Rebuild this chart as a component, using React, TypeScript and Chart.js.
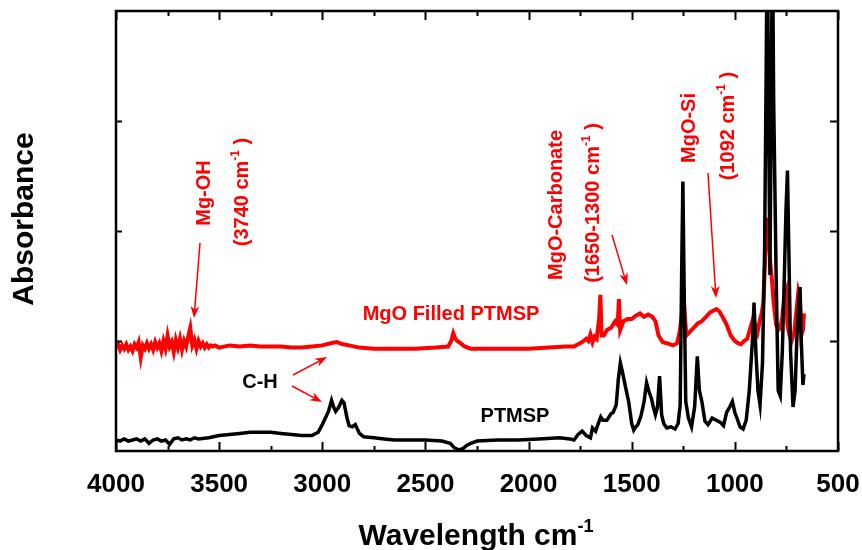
import React, { useEffect, useRef } from "react";
import { Chart, registerables } from "chart.js";

Chart.register(...registerables);

// ---- Data ----
const xTickLabels = [4000, 3500, 3000, 2500, 2000, 1500, 1000, 500];

const ptmspWave = [
  4000, 3980, 3960, 3940, 3920, 3900, 3880, 3860, 3840, 3820, 3800, 3780, 3760, 3740, 3720, 3700, 3680, 3660, 3640, 3620,
  3600, 3550, 3500, 3450, 3400, 3350, 3300, 3250, 3200, 3150, 3100, 3050, 3020, 3000, 2985, 2970, 2955, 2945, 2935, 2920,
  2905, 2895, 2880, 2870, 2855, 2840, 2820, 2800, 2750, 2700, 2650, 2600, 2500, 2420, 2380, 2360, 2340, 2320, 2300, 2280,
  2250, 2150, 2050, 1950, 1850, 1800, 1780, 1760, 1740, 1720, 1700, 1690, 1675, 1660, 1650, 1640, 1620, 1600, 1590, 1575,
  1565, 1555, 1545, 1530, 1515, 1500, 1490, 1480, 1470, 1455, 1440, 1428, 1418, 1405, 1395, 1385, 1375, 1365, 1355, 1345,
  1330, 1310, 1290, 1275, 1265, 1258, 1252, 1246, 1238, 1225, 1210, 1195, 1182, 1172, 1160, 1145, 1130, 1110, 1090, 1070,
  1055, 1040, 1025, 1012, 1000, 990, 975, 960, 945, 930, 915, 907, 898, 888, 878, 866, 856, 848, 843, 836,
  830, 824, 818, 812, 800, 790, 780, 770, 760, 752, 745, 738, 730, 718, 708, 700, 690, 684, 678, 670, 665,
];
const ptmspAbs = [
  0.10, 0.09, 0.11, 0.09, 0.10, 0.11, 0.09, 0.11, 0.07, 0.10, 0.11, 0.09, 0.10, 0.06, 0.11, 0.12, 0.10, 0.11, 0.10, 0.12,
  0.11, 0.12, 0.14, 0.15, 0.16, 0.17, 0.17, 0.17, 0.16, 0.15, 0.14, 0.14, 0.17, 0.24, 0.30, 0.36, 0.46, 0.40, 0.36, 0.40,
  0.46, 0.44, 0.30, 0.23, 0.22, 0.24, 0.16, 0.13, 0.12, 0.11, 0.10, 0.10, 0.10, 0.09, 0.07, 0.03, 0.01, 0.02, 0.05, 0.07,
  0.09, 0.10, 0.10, 0.11, 0.12, 0.11, 0.10, 0.15, 0.18, 0.14, 0.12, 0.21, 0.18, 0.26, 0.31, 0.28, 0.28, 0.34, 0.35, 0.42,
  0.65, 0.80, 0.72, 0.58, 0.45, 0.25, 0.19, 0.22, 0.24, 0.32, 0.45, 0.62, 0.55, 0.48, 0.40, 0.33, 0.40, 0.68, 0.33, 0.25,
  0.21, 0.22, 0.20, 0.25, 0.42, 1.60, 2.45, 1.50, 0.45, 0.30, 0.22, 0.40, 0.86, 0.55, 0.45, 0.27, 0.24, 0.30, 0.28, 0.26,
  0.23, 0.35, 0.40, 0.45, 0.35, 0.30, 0.22, 0.20, 0.28, 0.55, 1.00, 1.35, 0.90, 0.55, 0.42, 0.80, 1.80, 3.50, 4.80, 3.00,
  1.60, 3.00, 4.80, 3.20, 1.60, 0.55, 0.50, 0.90, 1.60, 2.20, 2.55, 1.80, 0.90, 0.40, 0.55, 1.00, 1.35, 1.49, 1.00, 0.60, 0.70,
];

const mgoWave = [
  4000, 3990, 3980, 3970, 3960, 3950, 3940, 3930, 3920, 3910, 3900, 3890, 3880, 3870, 3860, 3850, 3840, 3830, 3820, 3810,
  3800, 3790, 3780, 3770, 3760, 3750, 3740, 3730, 3720, 3710, 3700, 3690, 3680, 3670, 3660, 3650, 3640, 3630, 3620, 3610,
  3600, 3590, 3580, 3570, 3560, 3550, 3540, 3530, 3520, 3500, 3450, 3400, 3350, 3300, 3250, 3200, 3150, 3100, 3050, 3000,
  2960, 2930, 2900, 2870, 2820, 2750, 2650, 2550, 2450, 2390, 2375, 2365, 2355, 2345, 2330, 2310, 2280, 2200, 2100, 2000,
  1900, 1820, 1780, 1760, 1740, 1720, 1710, 1700, 1690, 1680, 1670, 1658, 1652, 1646, 1635, 1620, 1600, 1580, 1568, 1562,
  1556, 1540, 1520, 1500, 1480, 1460, 1440, 1420, 1400, 1385, 1370, 1350, 1330, 1300, 1280, 1268, 1255, 1245, 1235, 1220,
  1200, 1180, 1160, 1140, 1120, 1100, 1090, 1075, 1060, 1040, 1020, 1000, 985, 970, 955, 940, 925, 912, 900, 890,
  880, 870, 862, 855, 848, 842, 836, 828, 820, 812, 800, 790, 780, 770, 760, 752, 745, 735, 725, 712,
  700, 692, 685, 678, 670, 665,
];
const mgoAbs = [
  0.94, 0.97, 0.92, 0.96, 0.93, 0.97, 0.92, 0.95, 0.91, 0.97, 0.94, 0.99, 0.85, 0.96, 0.93, 0.98, 0.93, 0.97, 0.92, 0.99,
  0.94, 0.98, 0.91, 1.00, 0.93, 1.05, 0.95, 0.99, 0.90, 1.01, 0.94, 1.02, 0.92, 1.00, 0.95, 1.04, 1.12, 0.96, 1.01, 0.93,
  1.00, 0.95, 0.98, 0.94, 0.97, 0.94, 0.96, 0.95, 0.96, 0.94, 0.96, 0.95, 0.96, 0.95, 0.95, 0.95, 0.94, 0.94, 0.95, 0.96,
  0.98, 0.99, 0.97, 0.96, 0.94, 0.93, 0.93, 0.93, 0.94, 0.95, 1.00, 1.07, 1.02, 1.00, 0.98, 0.95, 0.93, 0.93, 0.93, 0.93,
  0.94, 0.95, 0.95, 0.97, 0.99, 1.02, 1.00, 1.06, 0.99, 1.04, 1.02, 1.20, 1.42, 1.05, 1.05, 1.10, 1.12, 1.18, 1.15, 1.38,
  1.10, 1.18, 1.20, 1.20, 1.23, 1.25, 1.22, 1.24, 1.22, 1.18, 1.05, 0.99, 0.98, 0.96, 0.98, 1.08, 1.26, 1.30, 1.05, 1.08,
  1.12, 1.16, 1.18, 1.22, 1.26, 1.28, 1.29, 1.27, 1.22, 1.15, 1.05, 1.00, 0.98, 0.97, 1.00, 1.02, 1.12, 1.20, 1.14, 1.08,
  1.18, 1.25, 1.35, 1.65, 2.00, 2.12, 1.95, 1.70, 1.55, 1.35, 1.15, 1.10, 1.12, 1.22, 1.40, 1.45, 1.15, 1.05, 1.00, 1.08,
  1.30, 1.45, 1.40, 1.05, 1.10, 1.25,
];

const ptmspPoints = ptmspWave.map((w, i) => ({ x: w, y: ptmspAbs[i] }));
const mgoPoints = mgoWave.map((w, i) => ({ x: w, y: mgoAbs[i] }));

const FONT = "'Liberation Sans', Arial, Helvetica, sans-serif";

type Part = { t: string; sup?: boolean };

function drawRich(
  ctx: CanvasRenderingContext2D,
  parts: Part[],
  x: number,
  y: number,
  angle: number,
  size: number,
  color: string
) {
  const supSize = Math.round(size * 0.6);
  const fontFor = (p: Part) => `bold ${p.sup ? supSize : size}px ${FONT}`;
  let total = 0;
  for (const p of parts) {
    ctx.font = fontFor(p);
    total += ctx.measureText(p.t).width;
  }
  ctx.save();
  ctx.translate(x, y);
  ctx.rotate(angle);
  ctx.fillStyle = color;
  ctx.textAlign = "left";
  ctx.textBaseline = "alphabetic";
  let cx = -total / 2;
  for (const p of parts) {
    ctx.font = fontFor(p);
    ctx.fillText(p.t, cx, p.sup ? -size * 0.43 : 0);
    cx += ctx.measureText(p.t).width;
  }
  ctx.restore();
}

function arrow(ctx: CanvasRenderingContext2D, x1: number, y1: number, x2: number, y2: number, color: string) {
  const ang = Math.atan2(y2 - y1, x2 - x1);
  const hl = 12;
  const hw = 4.5;
  ctx.save();
  ctx.strokeStyle = color;
  ctx.fillStyle = color;
  ctx.lineWidth = 1.5;
  ctx.beginPath();
  ctx.moveTo(x1, y1);
  ctx.lineTo(x2 - Math.cos(ang) * hl * 0.6, y2 - Math.sin(ang) * hl * 0.6);
  ctx.stroke();
  ctx.beginPath();
  ctx.moveTo(x2, y2);
  ctx.lineTo(x2 - Math.cos(ang) * hl - Math.sin(ang) * hw, y2 - Math.sin(ang) * hl + Math.cos(ang) * hw);
  ctx.lineTo(x2 - Math.cos(ang) * hl * 0.7, y2 - Math.sin(ang) * hl * 0.7);
  ctx.lineTo(x2 - Math.cos(ang) * hl + Math.sin(ang) * hw, y2 - Math.sin(ang) * hl - Math.cos(ang) * hw);
  ctx.closePath();
  ctx.fill();
  ctx.restore();
}

const decorPlugin = {
  id: "decor",
  afterDraw(chart: any) {
    const ctx: CanvasRenderingContext2D = chart.ctx;
    const { left, right, top, bottom } = chart.chartArea;
    const xs = chart.scales.x;
    const ys = chart.scales.y;
    ctx.save();
    // frame
    ctx.strokeStyle = "#000";
    ctx.lineWidth = 2.5;
    ctx.strokeRect(left, top, right - left, bottom - top);
    // x ticks
    ctx.lineWidth = 2;
    for (let w = 4000; w >= 500; w -= 250) {
      const px = Math.round(xs.getPixelForValue(w)) + 0.5;
      const major = w % 500 === 0;
      const len = major ? 9 : 5;
      ctx.beginPath();
      ctx.moveTo(px, bottom);
      ctx.lineTo(px, bottom - len);
      ctx.moveTo(px, top);
      ctx.lineTo(px, top + len);
      ctx.stroke();
    }
    // y ticks
    for (let v = 1; v <= 3; v++) {
      const py = Math.round(ys.getPixelForValue(v)) + 0.5;
      ctx.beginPath();
      ctx.moveTo(left, py);
      ctx.lineTo(left + 6, py);
      ctx.moveTo(right, py);
      ctx.lineTo(right - 8, py);
      ctx.stroke();
    }
    // x tick labels
    ctx.fillStyle = "#000";
    ctx.font = `bold 26px ${FONT}`;
    ctx.textAlign = "center";
    ctx.textBaseline = "alphabetic";
    for (const t of xTickLabels) {
      ctx.fillText(String(t), xs.getPixelForValue(t), 492);
    }
    ctx.restore();

    // axis titles
    drawRich(ctx, [{ t: "Wavelength cm" }, { t: "-1", sup: true }], 476, 545, 0, 30, "#000");
    drawRich(ctx, [{ t: "Absorbance" }], 33, 219, -Math.PI / 2, 30, "#000");

    // annotations
    const red = "#ff0000";
    drawRich(ctx, [{ t: "Mg-OH" }], 210, 193, -Math.PI / 2, 20, red);
    drawRich(ctx, [{ t: "(3740 cm" }, { t: "-1", sup: true }, { t: " )" }], 248, 192, -Math.PI / 2, 20, red);
    drawRich(ctx, [{ t: "MgO-Carbonate" }], 562, 205, -Math.PI / 2, 20, red);
    drawRich(ctx, [{ t: "(1650-1300 cm" }, { t: "-1", sup: true }, { t: " )" }], 599, 203, -Math.PI / 2, 20, red);
    drawRich(ctx, [{ t: "MgO-Si" }], 695, 128, -Math.PI / 2, 20, red);
    drawRich(ctx, [{ t: "(1092 cm" }, { t: "-1", sup: true }, { t: " )" }], 734, 126, -Math.PI / 2, 20, red);
    drawRich(ctx, [{ t: "MgO Filled PTMSP" }], 451, 320, 0, 20, red);
    drawRich(ctx, [{ t: "C-H" }], 260, 388, 0, 20, "#000");
    drawRich(ctx, [{ t: "PTMSP" }], 515, 422, 0, 20, "#000");

    arrow(ctx, 200, 243, 194, 318, red);
    arrow(ctx, 612, 235, 627, 285, red);
    arrow(ctx, 708, 173, 716, 298, red);
    arrow(ctx, 293, 375, 327, 357, red);
    arrow(ctx, 292, 386, 322, 402, red);
  },
};

export default function App() {
  const ref = useRef<HTMLCanvasElement | null>(null);
  useEffect(() => {
    document.body.style.margin = "0";
    const canvas = ref.current;
    if (!canvas) return;
    const chart = new Chart(canvas, {
      type: "line",
      data: {
        datasets: [
          {
            label: "PTMSP",
            data: ptmspPoints,
            borderColor: "#000000",
            borderWidth: 3.5,
            pointRadius: 0,
            tension: 0,
            fill: false,
          },
          {
            label: "MgO Filled PTMSP",
            data: mgoPoints,
            borderColor: "#ff0000",
            borderWidth: 4,
            pointRadius: 0,
            tension: 0,
            fill: false,
          },
        ],
      },
      options: {
        responsive: false,
        animation: false,
        layout: { padding: { left: 0, top: 11, right: 24, bottom: 0 } },
        scales: {
          x: {
            type: "linear",
            reverse: true,
            min: 500,
            max: 4000,
            ticks: { display: false },
            grid: { display: false },
            border: { display: false },
            afterFit: (s: any) => {
              s.height = 99;
            },
          },
          y: {
            min: 0,
            max: 4,
            ticks: { display: false },
            grid: { display: false },
            border: { display: false },
            afterFit: (s: any) => {
              s.width = 116;
            },
          },
        },
        plugins: {
          legend: { display: false },
          tooltip: { enabled: false },
        },
      } as any,
      plugins: [decorPlugin],
    });
    return () => chart.destroy();
  }, []);
  return <canvas ref={ref} width={862} height={550} style={{ display: "block", width: 862, height: 550 }} />;
}
